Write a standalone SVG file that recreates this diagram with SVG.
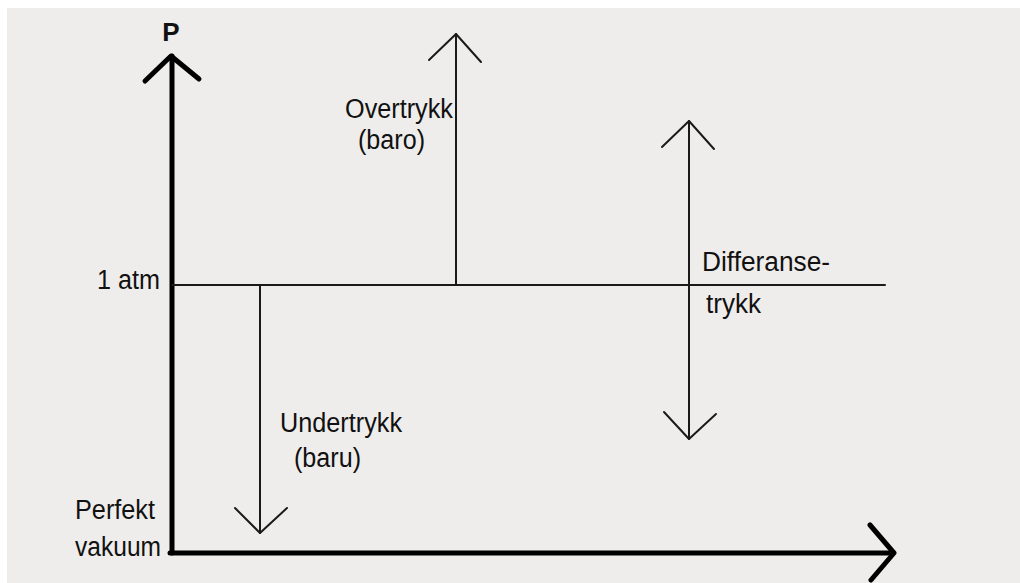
<svg xmlns="http://www.w3.org/2000/svg" width="1020" height="583" viewBox="0 0 1020 583">
<style>
.t{font-family:"Liberation Sans",Arial,sans-serif;font-size:27px;fill:#111}
.thin{stroke:#1a1a1a;stroke-width:2;fill:none;stroke-linecap:round;stroke-linejoin:round}
.thick{stroke:#000;stroke-width:5;fill:none;stroke-linecap:round;stroke-linejoin:round}
</style>
<rect x="0" y="0" width="1020" height="583" fill="#ffffff"/>
<rect x="7" y="8" width="1013" height="575" fill="#efedeb"/>
<g id="connectors">
<g id="y-axis"><line class="thick" x1="172" y1="56" x2="172" y2="553"/><polyline class="thick" points="145,81 171,56 199,79"/></g>
<g id="x-axis"><line class="thick" x1="170" y1="553" x2="893" y2="553"/><polyline class="thick" points="870,525 894,553 871,580"/></g>
<g id="atm-line"><line class="thin" x1="172" y1="285" x2="885" y2="285"/></g>
<g id="overtrykk-arrow"><line class="thin" x1="456" y1="285" x2="456" y2="34"/><polyline class="thin" points="429,60 456,34 481,62"/></g>
<g id="undertrykk-arrow"><line class="thin" x1="260" y1="285" x2="260" y2="533"/><polyline class="thin" points="235,508 260,533 287,508"/></g>
<g id="differanse-arrow"><line class="thin" x1="689" y1="121" x2="689" y2="439"/><polyline class="thin" points="662,147 689,121 714,149"/><polyline class="thin" points="664,412 689,439 716,414"/></g>
</g>
<g id="label-P"><text x="171" y="41" text-anchor="middle" style="font-family:'Liberation Sans',Arial,sans-serif;font-size:26px;font-weight:bold;fill:#111">P</text></g>
<g id="label-1atm"><text class="t" x="97" y="289" textLength="63" lengthAdjust="spacingAndGlyphs">1 atm</text></g>
<g id="label-overtrykk"><text class="t" x="345" y="118" textLength="108" lengthAdjust="spacingAndGlyphs">Overtrykk</text><text class="t" x="358" y="149" textLength="67" lengthAdjust="spacingAndGlyphs">(baro)</text></g>
<g id="label-differanse"><text class="t" x="702" y="271" textLength="128" lengthAdjust="spacingAndGlyphs">Differanse-</text><text class="t" x="706" y="313" textLength="55" lengthAdjust="spacingAndGlyphs">trykk</text></g>
<g id="label-undertrykk"><text class="t" x="280" y="432" textLength="122" lengthAdjust="spacingAndGlyphs">Undertrykk</text><text class="t" x="294" y="467" textLength="67" lengthAdjust="spacingAndGlyphs">(baru)</text></g>
<g id="label-vakuum"><text class="t" x="75" y="519" textLength="80" lengthAdjust="spacingAndGlyphs">Perfekt</text><text class="t" x="75" y="556" textLength="86" lengthAdjust="spacingAndGlyphs">vakuum</text></g>
</svg>
